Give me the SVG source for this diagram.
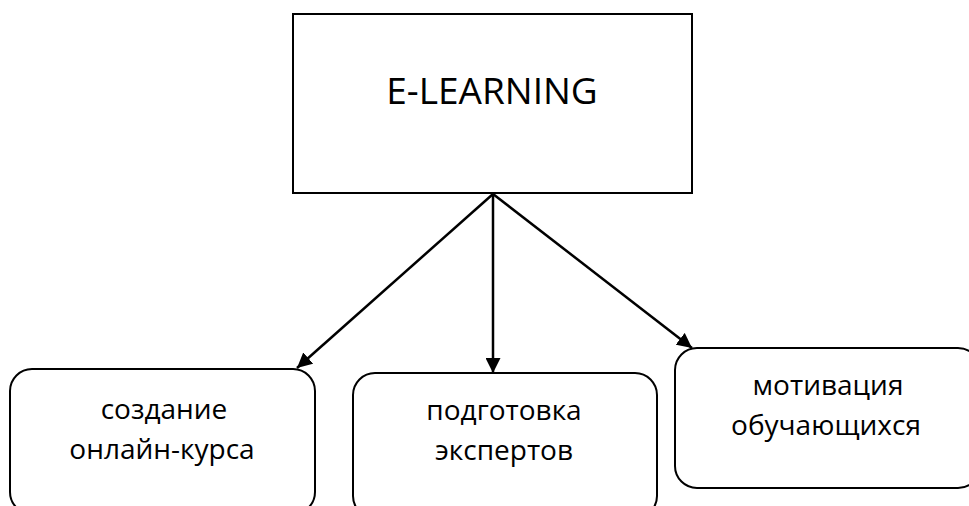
<svg xmlns="http://www.w3.org/2000/svg" width="969" height="506" viewBox="0 0 969 506">
<style>
.box{fill:#fff;stroke:#000;stroke-width:2}
.t{font-family:"Open Sans","Liberation Sans",sans-serif;fill:#000;text-anchor:middle}
.c{stroke:#000;stroke-width:2.5;fill:none}
</style>
<defs>
<marker id="ah" viewBox="0 0 10 10" refX="10" refY="5" markerWidth="6" markerHeight="6" markerUnits="strokeWidth" orient="auto">
<path d="M0,0 L10,5 L0,10 z" fill="#000"/>
</marker>
</defs>
<rect width="969" height="506" fill="#fff"/>
<g id="e-learning">
<rect class="box" x="293" y="14" width="399" height="179"/>
<text class="t" x="492" y="104" font-size="37">E-LEARNING</text>
</g>
<g id="course">
<rect class="box" x="10" y="369" width="305" height="145" rx="22"/>
<text class="t" x="164" y="419" font-size="28">создание</text>
<text class="t" x="162" y="459" font-size="28">онлайн-курса</text>
</g>
<g id="experts">
<rect class="box" x="353" y="373" width="304" height="145" rx="22"/>
<text class="t" x="504" y="420" font-size="28">подготовка</text>
<text class="t" x="504" y="460" font-size="28">экспертов</text>
</g>
<g id="motivation">
<rect class="box" x="675" y="348" width="305" height="140" rx="22"/>
<text class="t" x="828" y="395" font-size="28">мотивация</text>
<text class="t" x="826" y="435" font-size="28">обучающихся</text>
</g>
<g id="connectors">
<line class="c" x1="493" y1="194" x2="297" y2="368" marker-end="url(#ah)"/>
<line class="c" x1="493" y1="194" x2="493" y2="373" marker-end="url(#ah)"/>
<line class="c" x1="493" y1="194" x2="692" y2="348" marker-end="url(#ah)"/>
</g>
</svg>
